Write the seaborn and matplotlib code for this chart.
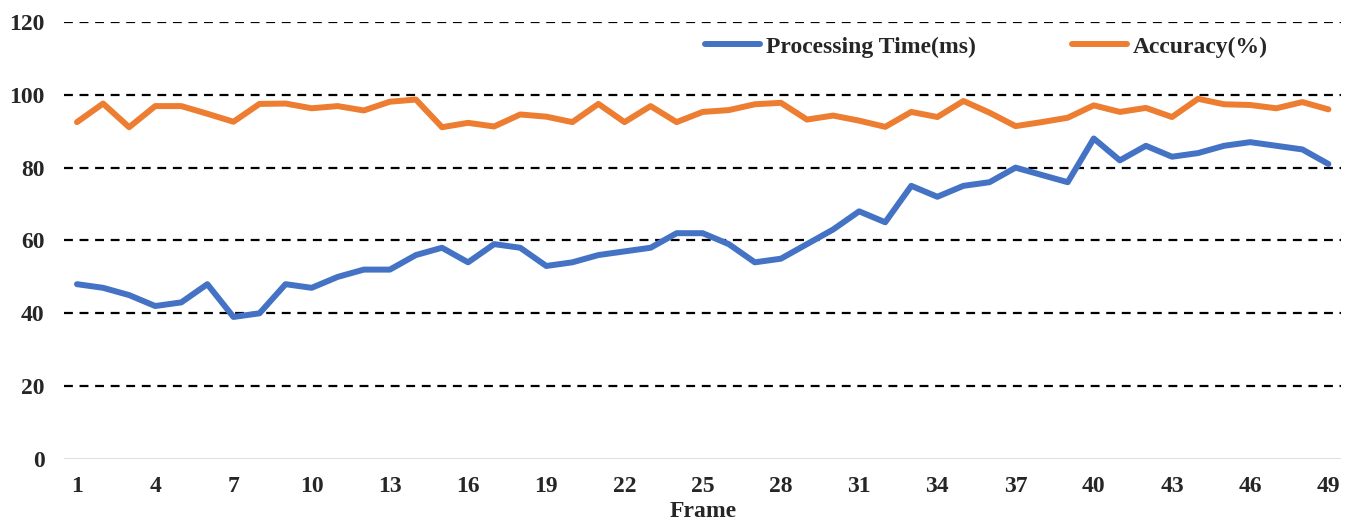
import numpy as np
import pandas as pd
import seaborn as sns
import matplotlib.pyplot as plt

# valores
frames = list(range(1, 50))
processing_time = [48, 47, 45, 42, 43, 48, 39, 40, 48, 47, 50, 52, 52, 56, 58, 54, 59,
                   58, 53, 54, 56, 57, 58, 62, 62, 59, 54, 55, 59, 63, 68, 65, 75, 72,
                   75, 76, 80, 78, 76, 88, 82, 86, 83, 84, 86, 87, 86, 85, 81]
accuracy = [92.5, 97.6, 91.1, 96.9, 96.9, 94.8, 92.6, 97.5, 97.6, 96.3, 96.9, 95.7, 98.1,
            98.7, 91.1, 92.3, 91.3, 94.6, 94.0, 92.5, 97.5, 92.5, 96.9, 92.5, 95.3, 95.8,
            97.4, 97.8, 93.2, 94.3, 92.9, 91.2, 95.3, 93.9, 98.3, 95.1, 91.4, 92.5, 93.7,
            97.1, 95.3, 96.4, 93.9, 98.9, 97.4, 97.2, 96.3, 98.0, 96.0]
series_names = ["Processing Time(ms)", "Accuracy(%)"]
x_ticks = list(range(1, 50, 3))
y_ticks = [0, 20, 40, 60, 80, 100, 120]

df = pd.DataFrame({
    "Frame": frames * 2,
    "Value": processing_time + accuracy,
    "Serie": [series_names[0]] * len(frames) + [series_names[1]] * len(frames),
})

sns.set_style("white")
plt.rcParams["font.family"] = ["Liberation Serif", "DejaVu Serif"]
plt.rcParams["font.weight"] = "bold"

fig = plt.figure(figsize=(13.55, 5.23), dpi=100)
ax = fig.add_axes([0.0472, 0.1224, 0.9428, 0.8356])

sns.lineplot(data=df, x="Frame", y="Value", hue="Serie", hue_order=series_names,
             palette=["#4472C4", "#ED7D31"], linewidth=4.3, ax=ax, legend=True)

ax.set_xlim(0.5, 49.5)
ax.set_ylim(0, 120)
ax.set_xticks(x_ticks)
ax.set_yticks(y_ticks)
for y in y_ticks[1:]:
    ax.axhline(y, color="black", linestyle=(0, (4, 3)), linewidth=1.6, zorder=0)
ax.axhline(0, color="#d9d9d9", linewidth=2, zorder=0)
for s in ax.spines.values():
    s.set_visible(False)

ax.tick_params(axis="both", length=0, labelsize=17)
ax.tick_params(axis="y", pad=14)
ax.tick_params(axis="x", pad=12)
for lbl in ax.get_xticklabels() + ax.get_yticklabels():
    lbl.set_fontweight("bold")

ax.set_xlabel("Frame", fontsize=17, fontweight="bold", labelpad=3)
ax.set_ylabel("")

leg = ax.legend(loc="center left", bbox_to_anchor=(0.502, 0.943), ncol=2, frameon=False,
                prop={"size": 17, "weight": "bold"}, handlelength=2.3,
                handletextpad=0.26, columnspacing=4.1, borderaxespad=0, borderpad=0)
for h in leg.get_lines():
    h.set_linewidth(4.3)

plt.savefig("out.png", dpi=100)
